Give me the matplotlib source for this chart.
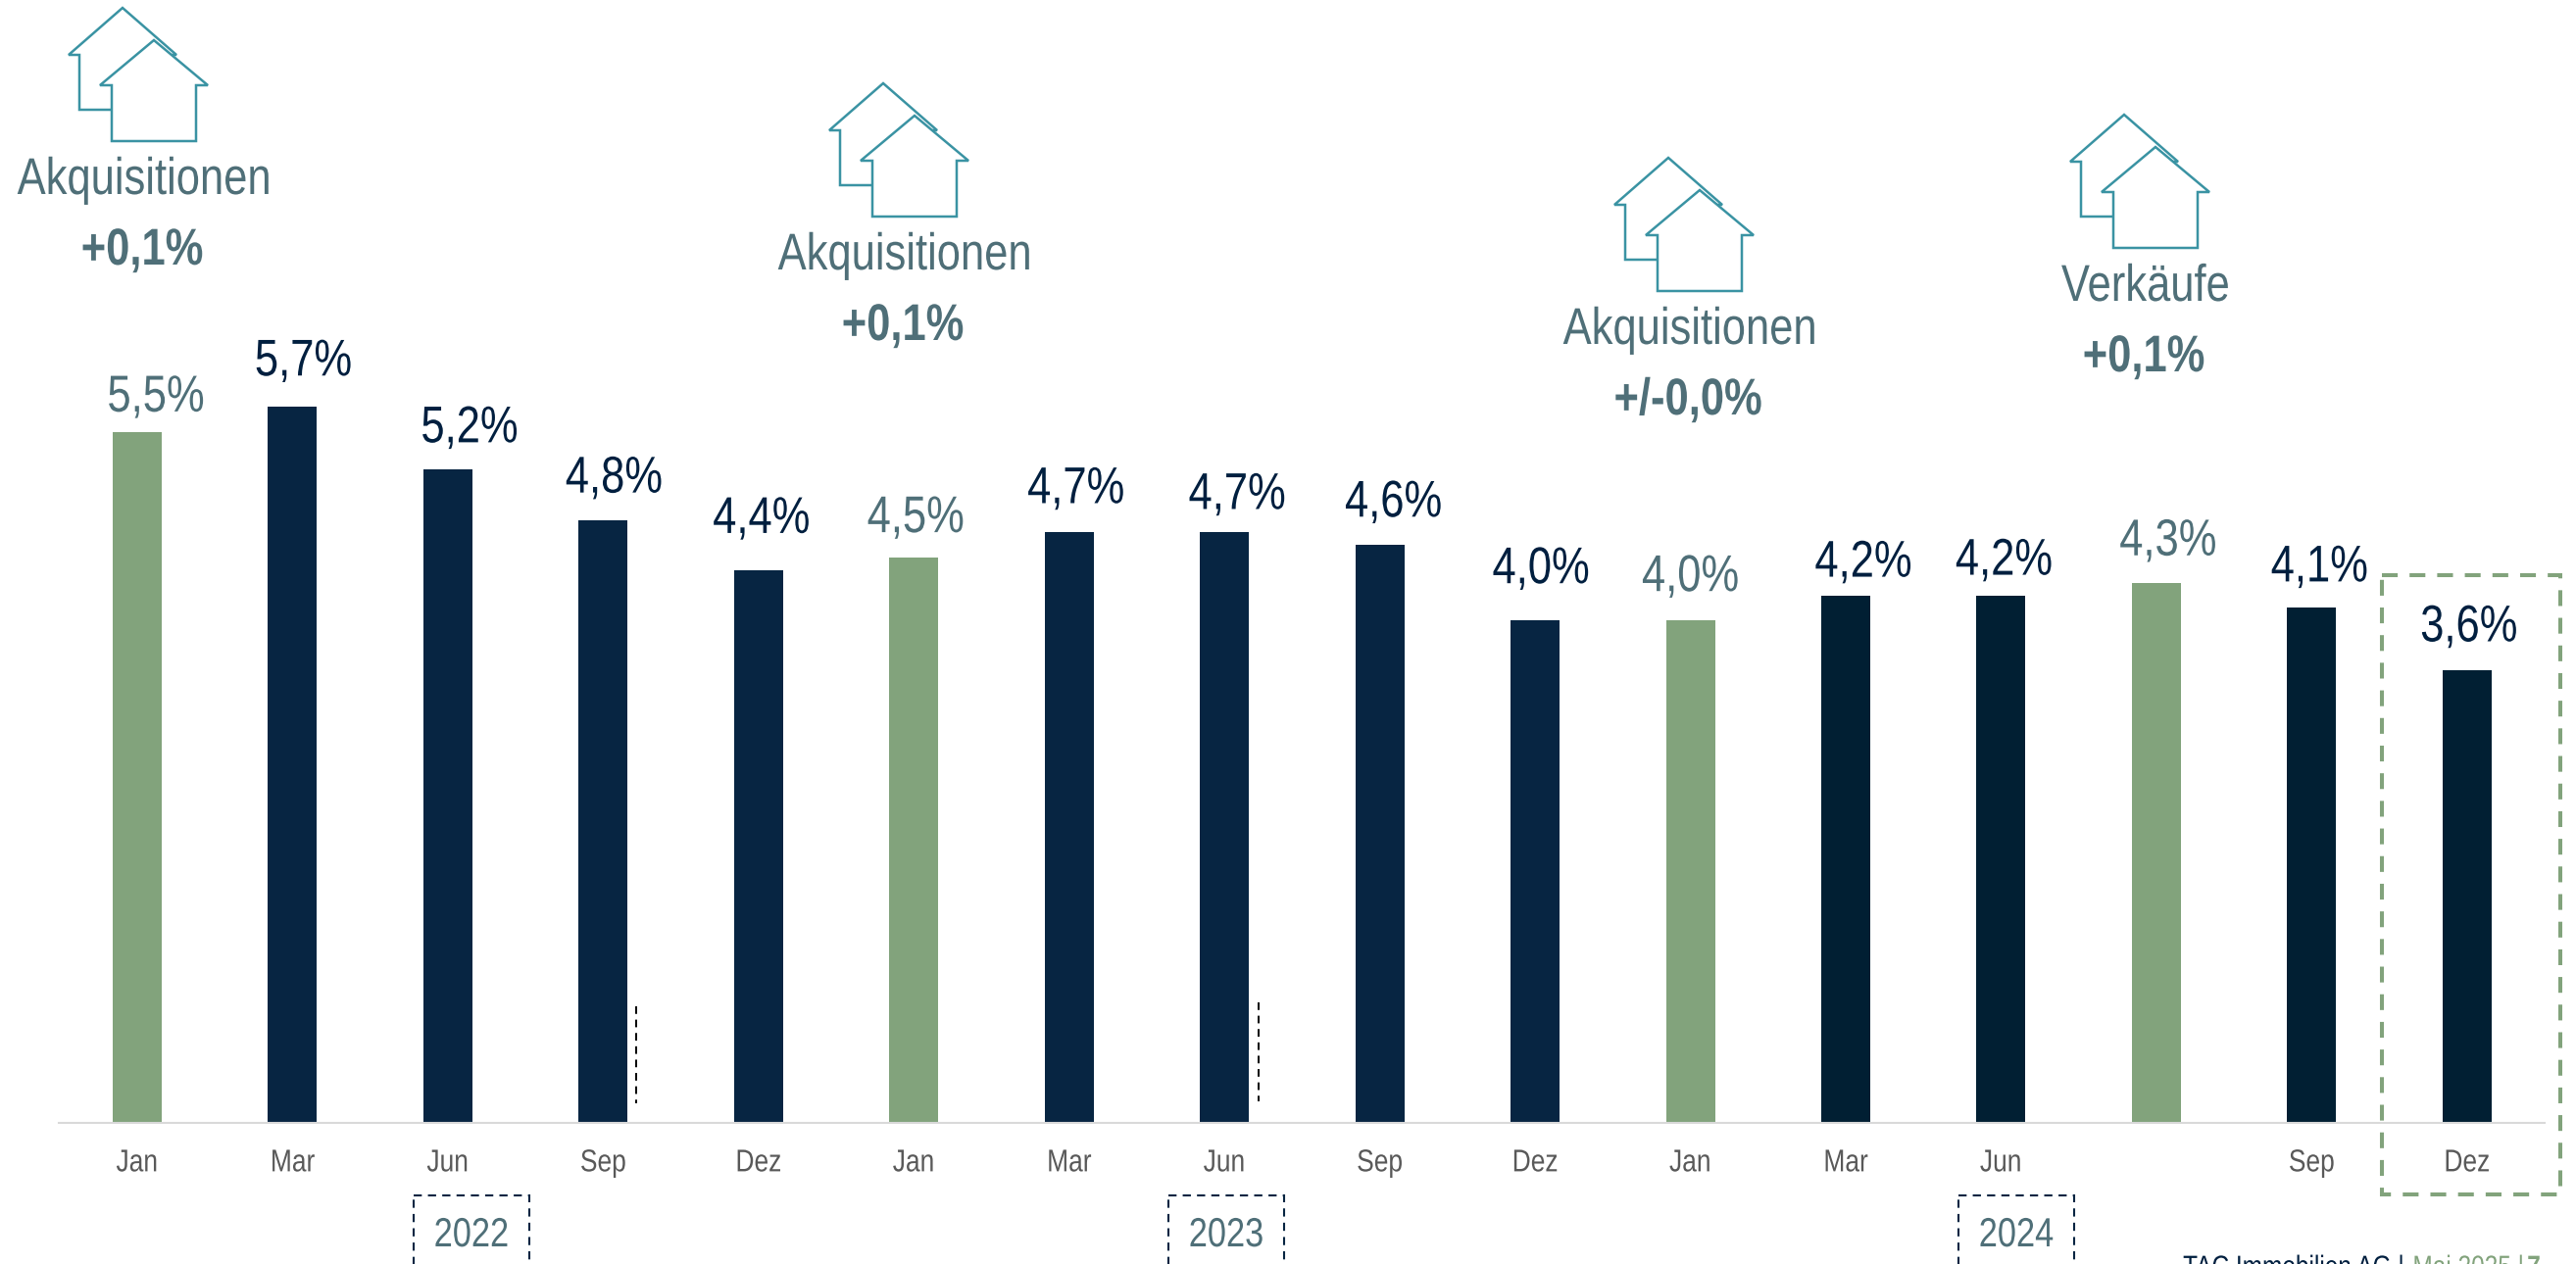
import matplotlib
matplotlib.use('Agg')
import matplotlib.pyplot as plt
from matplotlib.patches import Polygon, Rectangle
from matplotlib.patheffects import AbstractPathEffect
from matplotlib.transforms import Affine2D

plt.rcParams['font.family'] = ['Liberation Sans', 'DejaVu Sans']

# Data
months = ['Jan', 'Mar', 'Jun', 'Sep', 'Dez', 'Jan', 'Mar', 'Jun', 'Sep', 'Dez', 'Jan', 'Mar', 'Jun', '', 'Sep', 'Dez']
values = [5.5, 5.7, 5.2, 4.8, 4.4, 4.5, 4.7, 4.7, 4.6, 4.0, 4.0, 4.2, 4.2, 4.3, 4.1, 3.6]
years = ['2022', '2023', '2024']
event_names = ['Akquisitionen', 'Akquisitionen', 'Akquisitionen', 'Verkäufe']
event_effects = ['+0,1%', '+0,1%', '+/-0,0%', '+0,1%']

NAVY = '#072542'
DARK = '#011f33'
GREEN = '#82a37c'
TEAL = '#3a93a3'
SLATE = '#4f6f78'
LABEL = '#001f3f'
GREY = '#595959'

bar_colors = [GREEN, NAVY, NAVY, NAVY, NAVY, GREEN, NAVY, NAVY, NAVY, NAVY,
              GREEN, DARK, DARK, GREEN, DARK, DARK]
label_colors = [SLATE if c == GREEN else LABEL for c in bar_colors]

# Hand placed labels in the original slide, offsets in pixels from the bar top
label_dx = [19, 11, 22, 11, 3, 2, 7, 13, 14, 6, 0, 18, 3, 12, 8, 2]
label_dy = [21, 32, 28, 28, 38, 26, 30, 24, 29, 38, 30, 19, 21, 28, 27, 30]


class Narrow(AbstractPathEffect):
    """Squeeze a text sideways, no Arial Narrow is installed here."""

    def __init__(self, anchor='center', factor=0.825):
        super().__init__()
        self.anchor = anchor
        self.factor = factor

    def draw_path(self, renderer, gc, tpath, affine, rgbFace=None):
        ext = tpath.get_extents(affine)
        x0 = ext.x0 if self.anchor == 'left' else (ext.x0 + ext.x1) / 2
        squeeze = Affine2D().translate(-x0, 0).scale(self.factor, 1).translate(x0, 0)
        renderer.draw_path(gc, tpath, affine + squeeze, rgbFace)


narrow = [Narrow()]
narrow_left = [Narrow('left')]

W, H = 2628, 1290
fig = plt.figure(figsize=(W / 100, H / 100), dpi=100)

# Main axes: one unit on x is one bar step, y is percent
ax = fig.add_axes([60 / W, (H - 1146) / H, (2596 - 60) / W, 1146 / H])
ax.set_xlim(-0.505, 15.5)
ax.set_ylim(0, 1146 / 128.2)
ax.patch.set_alpha(0)
ax.bar(range(len(values)), values, width=50 / 158.47, color=bar_colors)
for s in ['top', 'left', 'right']:
    ax.spines[s].set_visible(False)
ax.spines['bottom'].set_color('#d9d9d9')
ax.spines['bottom'].set_linewidth(1.5)
ax.set_yticks([])
ax.set_xticks(range(len(months)))
ax.set_xticklabels(months, fontsize=23, color=GREY, path_effects=narrow)
ax.tick_params(axis='x', length=0, pad=19)

for i, v in enumerate(values):
    ax.annotate(f'{v:.1f}%'.replace('.', ','), xy=(i, v), xytext=(label_dx[i], label_dy[i]),
                xycoords='data', textcoords='offset pixels', ha='center', va='baseline',
                fontsize=38, color=label_colors[i], annotation_clip=False, path_effects=narrow)

# Overlay in reference pixels for the slide furniture
over = fig.add_axes([0, 0, 1, 1])
over.set_xlim(0, W)
over.set_ylim(H, 0)
over.axis('off')
over.patch.set_alpha(0)

back_house = [(125, 8), (180, 56), (169, 56), (169, 112), (81, 112), (81, 56), (70, 56)]
front_house = [(157, 41), (212, 87), (200, 87), (200, 144), (114, 144), (114, 87), (102, 87)]
event_dx = [0, 776, 1577, 2042]
event_dy = [0, 77, 153, 109]

for name, effect, dx, dy in zip(event_names, event_effects, event_dx, event_dy):
    for shape, z in [(back_house, 3), (front_house, 4)]:
        pts = [(x + dx, y + dy) for x, y in shape]
        over.add_patch(Polygon(pts, closed=True, facecolor='white', edgecolor=TEAL, linewidth=1.8, zorder=z))
    over.text(147 + dx, 198 + dy, name, ha='center', va='baseline', fontsize=38, color=SLATE, path_effects=narrow)
    over.text(145 + dx, 270 + dy, effect, ha='center', va='baseline', fontsize=38, color=SLATE,
              fontweight='bold', path_effects=narrow)

# Year boxes run off the bottom of the picture
for year, left in zip(years, [422, 1192, 1998]):
    over.add_patch(Rectangle((left, 1220), 118, 120, fill=False, edgecolor=NAVY, linewidth=1.5,
                             linestyle=(0, (4, 3)), zorder=3))
    over.text(left + 59, 1272, year, ha='center', va='baseline', fontsize=30, color=SLATE, path_effects=narrow)

# Highlight round the last bar
over.add_patch(Rectangle((2430, 587), 182, 632, fill=False, edgecolor=GREEN, linewidth=2.9,
                         linestyle=(0, (4, 3)), zorder=5))

# Small dashed markers next to the bars
for x, y0, y1 in [(649, 1027, 1126), (1284, 1023, 1124)]:
    over.plot([x, x], [y0, y1], color='black', linewidth=1.4, linestyle=(0, (4, 3)))

# Footer, cut by the lower edge like in the reference
over.text(2227, 1302, 'TAC Immobilien AG |', ha='left', va='baseline', fontsize=21.3, color=LABEL,
          clip_on=False, path_effects=narrow_left)
over.text(2461, 1302, 'Mai 2025 |', ha='left', va='baseline', fontsize=21.3, color=GREEN,
          clip_on=False, path_effects=narrow_left)
over.text(2578, 1302, '7', ha='left', va='baseline', fontsize=21.3, color=GREEN, fontweight='bold',
          clip_on=False, path_effects=narrow_left)

fig.savefig('out.png', dpi=100)
